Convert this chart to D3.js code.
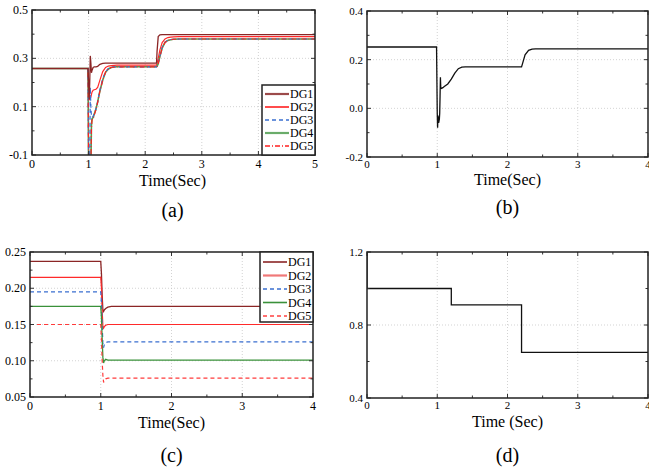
<!DOCTYPE html>
<html>
<head>
<meta charset="utf-8">
<script src="https://cdn.jsdelivr.net/npm/d3@7"></script>
<style>
  body { margin: 0; background: #fff; }
  svg { display: block; font-family: "Liberation Serif", "Times New Roman", serif; }
</style>
</head>
<body>
<svg id="chart" width="649" height="472"></svg>
<script>
// (a) valores de los cinco DG
const aTime = [0, 0.99, 1.0, 1.01, 1.02, 1.03, 1.04, 1.05, 1.06, 1.08, 1.1, 1.13, 1.16, 1.2, 1.25, 1.3, 1.35, 1.4, 1.45, 1.5, 1.6, 2.2, 2.21, 2.23, 2.26, 2.3, 2.35, 2.4, 2.45, 2.5, 2.6, 5];
const aDG1 = [0.258, 0.258, 0.2, 0.13, 0.2, 0.31, 0.28, 0.24, 0.25, 0.262, 0.265, 0.265, 0.267, 0.275, 0.279, 0.28, 0.28, 0.28, 0.28, 0.28, 0.28, 0.28, 0.33, 0.39, 0.397, 0.398, 0.398, 0.398, 0.398, 0.398, 0.398, 0.398];
const aDG2 = [0.258, 0.258, 0.15, 0.135, 0.13, 0.135, 0.14, 0.15, 0.16, 0.168, 0.17, 0.172, 0.18, 0.21, 0.245, 0.262, 0.268, 0.27, 0.271, 0.272, 0.272, 0.272, 0.28, 0.3, 0.335, 0.365, 0.38, 0.386, 0.388, 0.389, 0.39, 0.39];
const aDG3 = [0.258, 0.258, -0.15, -0.15, -0.15, 0.18, 0.1, 0.06, 0.055, 0.06, 0.07, 0.09, 0.12, 0.17, 0.215, 0.245, 0.258, 0.263, 0.265, 0.265, 0.265, 0.265, 0.268, 0.28, 0.31, 0.345, 0.367, 0.375, 0.378, 0.379, 0.38, 0.38];
const aDG4 = [0.258, 0.258, -0.15, -0.15, -0.15, -0.15, -0.15, 0.02, 0.05, 0.055, 0.07, 0.09, 0.12, 0.165, 0.21, 0.242, 0.256, 0.262, 0.264, 0.265, 0.265, 0.265, 0.267, 0.278, 0.308, 0.343, 0.366, 0.374, 0.377, 0.379, 0.38, 0.38];
const aDG5 = [0.258, 0.258, -0.15, -0.15, -0.15, -0.15, -0.15, 0.01, 0.045, 0.05, 0.065, 0.088, 0.118, 0.165, 0.21, 0.243, 0.257, 0.262, 0.264, 0.265, 0.265, 0.265, 0.267, 0.278, 0.308, 0.343, 0.366, 0.374, 0.377, 0.379, 0.38, 0.38];

// (b)
const bTime = [0, 0.99, 1.0, 1.005, 1.01, 1.02, 1.03, 1.035, 1.04, 1.045, 1.05, 1.06, 1.08, 1.1, 1.15, 1.2, 1.25, 1.3, 1.35, 1.4, 1.5, 2.2, 2.22, 2.25, 2.3, 2.35, 2.4, 2.5, 4];
const bValue = [0.252, 0.252, -0.02, -0.08, -0.03, -0.06, -0.045, -0.02, 0.05, 0.128, 0.085, 0.082, 0.085, 0.09, 0.1, 0.12, 0.145, 0.163, 0.169, 0.17, 0.17, 0.17, 0.19, 0.22, 0.238, 0.243, 0.244, 0.244, 0.244];

// (c)
const cTime = [0, 1.0, 1.01, 1.02, 1.03, 1.04, 1.05, 1.07, 1.1, 1.15, 1.2, 4];
const cDG1 = [0.237, 0.237, 0.22, 0.19, 0.17, 0.168, 0.17, 0.172, 0.174, 0.175, 0.175, 0.175];
const cDG2 = [0.215, 0.215, 0.2, 0.17, 0.148, 0.145, 0.147, 0.149, 0.15, 0.15, 0.15, 0.15];
const cDG3 = [0.195, 0.195, 0.18, 0.15, 0.125, 0.118, 0.122, 0.125, 0.126, 0.126, 0.126, 0.126];
const cDG4 = [0.175, 0.175, 0.16, 0.13, 0.105, 0.097, 0.1, 0.102, 0.101, 0.101, 0.101, 0.101];
const cDG5 = [0.15, 0.15, 0.13, 0.1, 0.08, 0.07, 0.073, 0.075, 0.076, 0.076, 0.076, 0.076];

// (d)
const dTime = [0, 0, 1.2, 1.2, 2.2, 2.2, 4];
const dValue = [1.2, 1.0, 1.0, 0.91, 0.91, 0.65, 0.65];

const legendNames = ["DG1", "DG2", "DG3", "DG4", "DG5"];

const svg = d3.select("#chart");

// dibuja un panel con ejes tipo Origin (ticks hacia dentro en los 4 lados)
function panel(o) {
  const x = d3.scaleLinear().domain(o.xDomain).range([o.left, o.left + o.width]);
  const y = d3.scaleLinear().domain(o.yDomain).range([o.top + o.height, o.top]);
  const g = svg.append("g");
  const clipId = "clip" + o.id;
  svg.append("clipPath").attr("id", clipId)
    .append("rect").attr("x", o.left).attr("y", o.top).attr("width", o.width).attr("height", o.height);

  // rejilla punteada
  g.selectAll(".gx").data(o.xGrid).enter().append("line")
    .attr("x1", d => x(d)).attr("x2", d => x(d))
    .attr("y1", o.top).attr("y2", o.top + o.height)
    .attr("stroke", "#c8c8c8").attr("stroke-width", 0.8).attr("stroke-dasharray", "1,2");
  g.selectAll(".gy").data(o.yGrid).enter().append("line")
    .attr("y1", d => y(d)).attr("y2", d => y(d))
    .attr("x1", o.left).attr("x2", o.left + o.width)
    .attr("stroke", "#c8c8c8").attr("stroke-width", 0.8).attr("stroke-dasharray", "1,2");

  // series
  const line = d3.line().x(d => x(d[0])).y(d => y(d[1]));
  const lines = g.append("g").attr("clip-path", `url(#${clipId})`);
  o.series.forEach(s => {
    lines.append("path")
      .datum(s.t.map((t, i) => [t, s.v[i]]))
      .attr("d", line)
      .attr("fill", "none")
      .attr("stroke", s.color)
      .attr("stroke-width", s.width || 1.2)
      .attr("stroke-dasharray", s.dash || null);
  });

  // ticks
  const tickCol = "#333";
  const xMinor = o.xMinor, yMinor = o.yMinor;
  [[o.top + o.height, -1], [o.top, 1]].forEach(([yy, dir]) => {
    g.selectAll(null).data(xMinor).enter().append("line")
      .attr("x1", d => x(d)).attr("x2", d => x(d))
      .attr("y1", yy).attr("y2", d => yy + dir * (o.xMajor.includes(d) ? 4 : 2.5))
      .attr("stroke", tickCol).attr("stroke-width", 1);
  });
  [[o.left, 1], [o.left + o.width, -1]].forEach(([xx, dir]) => {
    g.selectAll(null).data(yMinor).enter().append("line")
      .attr("y1", d => y(d)).attr("y2", d => y(d))
      .attr("x1", xx).attr("x2", d => xx + dir * (o.yMajor.includes(d) ? 4 : 2.5))
      .attr("stroke", tickCol).attr("stroke-width", 1);
  });

  // marco
  g.append("rect")
    .attr("x", o.left).attr("y", o.top).attr("width", o.width).attr("height", o.height)
    .attr("fill", "none").attr("stroke", "#222").attr("stroke-width", 1.5);

  // etiquetas de ticks
  g.selectAll(null).data(o.xMajor).enter().append("text")
    .attr("x", d => x(d)).attr("y", o.top + o.height + o.xLabelGap)
    .attr("text-anchor", "middle").attr("font-size", o.xTickSize)
    .text(d => d3.format("d")(d));
  g.selectAll(null).data(o.yMajor).enter().append("text")
    .attr("x", o.left - 4).attr("y", d => y(d) + 4)
    .attr("text-anchor", "end").attr("font-size", o.yTickSize)
    .text(d => d3.format(o.yFormat)(d).replace("−", "-"));

  g.append("text").attr("x", o.left + o.width / 2 + (o.labelShift || 0)).attr("y", o.labelY)
    .attr("text-anchor", "middle").attr("font-size", 16).text(o.xLabel);
  g.append("text").attr("x", o.left + o.width / 2 + (o.labelShift || 0)).attr("y", o.captionY)
    .attr("text-anchor", "middle").attr("font-size", 20).text(o.caption);

  // leyenda
  if (o.legend) {
    const L = o.legend;
    g.append("rect").attr("x", L.x).attr("y", L.y).attr("width", L.w).attr("height", L.h)
      .attr("fill", "#fff").attr("stroke", "#222").attr("stroke-width", 1.5);
    o.series.slice().sort((a, b) => a.order - b.order).forEach((s, i) => {
      const yy = L.y + L.first + i * L.step;
      g.append("line").attr("x1", L.x + 3).attr("x2", L.x + 27).attr("y1", yy).attr("y2", yy)
        .attr("stroke", s.legendColor || s.color).attr("stroke-width", s.legendWidth || 1.6)
        .attr("stroke-dasharray", s.dash || null);
      g.append("text").attr("x", L.x + 28).attr("y", yy + 4).attr("font-size", 12)
        .text(legendNames[s.order]);
    });
  }
}

const cRed = "#ff2a2a", cMaroon = "#8b2525", cBlue = "#3a6fd0", cGreen = "#4a9a4a";

panel({
  id: "a", left: 32, top: 10, width: 283, height: 145,
  xDomain: [0, 5], yDomain: [-0.1, 0.5],
  xMajor: [0, 1, 2, 3, 4, 5], xMinor: d3.range(0, 5.01, 0.5).map(v => +v.toFixed(1)),
  yMajor: [-0.1, 0.1, 0.3, 0.5], yMinor: [-0.1, 0, 0.1, 0.2, 0.3, 0.4, 0.5],
  xGrid: [1, 2, 3, 4], yGrid: [0.1, 0.3], yFormat: ".1f",
  xTickSize: 12, yTickSize: 12, xLabelGap: 13,
  xLabel: "Time(Sec)", labelY: 186, caption: "(a)", captionY: 217, labelShift: -1,
  series: [
    { order: 1, t: aTime, v: aDG2, color: cRed, width: 1.2, legendColor: "#ff2020" },
    { order: 3, t: aTime, v: aDG4, color: "#4f9f4f", width: 1.6, legendColor: "#6aac6a", legendWidth: 2.2 },
    { order: 2, t: aTime, v: aDG3, color: cBlue, dash: "4,3", width: 1.2 },
    { order: 4, t: aTime, v: aDG5, color: "#ff2020", dash: "5,2,1,2", width: 1.2 },
    { order: 0, t: aTime, v: aDG1, color: cMaroon, width: 1.3, legendColor: "#9c4a4a", legendWidth: 2.2 }
  ],
  legend: { x: 262, y: 85, w: 53, h: 70, first: 9, step: 13 }
});

panel({
  id: "b", left: 367, top: 11, width: 281, height: 146,
  xDomain: [0, 4], yDomain: [-0.2, 0.4],
  xMajor: [0, 1, 2, 3, 4], xMinor: d3.range(0, 4.01, 0.5).map(v => +v.toFixed(1)),
  yMajor: [-0.2, 0, 0.2, 0.4], yMinor: [-0.2, -0.1, 0, 0.1, 0.2, 0.3, 0.4],
  xGrid: [1, 2, 3], yGrid: [0, 0.2], yFormat: ".1f",
  xTickSize: 11, yTickSize: 11, xLabelGap: 11,
  xLabel: "Time(Sec)", labelY: 185, caption: "(b)", captionY: 214,
  series: [{ order: 0, t: bTime, v: bValue, color: "#111", width: 1.3 }]
});

panel({
  id: "c", left: 30, top: 252, width: 283, height: 145,
  xDomain: [0, 4], yDomain: [0.05, 0.25],
  xMajor: [0, 1, 2, 3, 4], xMinor: d3.range(0, 4.01, 0.5).map(v => +v.toFixed(1)),
  yMajor: [0.05, 0.1, 0.15, 0.2, 0.25], yMinor: [0.05, 0.075, 0.1, 0.125, 0.15, 0.175, 0.2, 0.225, 0.25],
  xGrid: [1, 2, 3], yGrid: [0.1, 0.15, 0.2], yFormat: ".2f",
  xTickSize: 12, yTickSize: 12, xLabelGap: 13,
  xLabel: "Time(Sec)", labelY: 428, caption: "(c)", captionY: 462,
  series: [
    { order: 0, t: cTime, v: cDG1, color: cMaroon, width: 1.3 },
    { order: 1, t: cTime, v: cDG2, color: cRed, width: 1.2, legendColor: "#f07878", legendWidth: 2.2 },
    { order: 2, t: cTime, v: cDG3, color: cBlue, dash: "4,3", width: 1.2 },
    { order: 3, t: cTime, v: cDG4, color: "#3a913a", width: 1.3 },
    { order: 4, t: cTime, v: cDG5, color: "#ff3b3b", dash: "4,3", width: 1.2, legendColor: "#ff7070", legendWidth: 2.2 }
  ],
  legend: { x: 260, y: 252, w: 53, h: 70, first: 10, step: 13.5 }
});

panel({
  id: "d", left: 367, top: 252, width: 281, height: 146,
  xDomain: [0, 4], yDomain: [0.4, 1.2],
  xMajor: [0, 1, 2, 3, 4], xMinor: d3.range(0, 4.01, 0.5).map(v => +v.toFixed(1)),
  yMajor: [0.4, 0.8, 1.2], yMinor: [0.4, 0.6, 0.8, 1.0, 1.2],
  xGrid: [1, 2, 3], yGrid: [0.8], yFormat: ".1f",
  xTickSize: 11, yTickSize: 11, xLabelGap: 11,
  xLabel: "Time (Sec)", labelY: 427, caption: "(d)", captionY: 462,
  series: [{ order: 0, t: dTime, v: dValue, color: "#111", width: 1.3 }]
});
</script>
</body>
</html>
